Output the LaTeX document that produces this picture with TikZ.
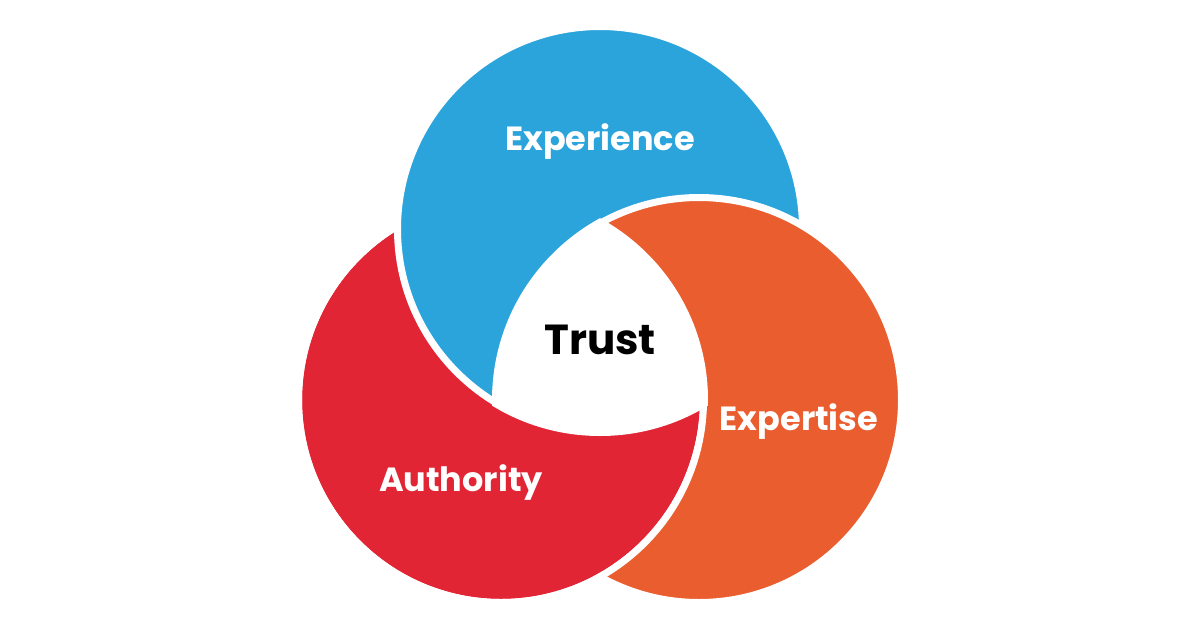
\documentclass[tikz,border=0pt]{standalone}
\usepackage{fontspec}
\setmainfont{Poppins}
\definecolor{expblue}{RGB}{43,164,219}
\definecolor{authred}{RGB}{226,37,52}
\definecolor{exporange}{RGB}{234,93,46}

\begin{document}
\begin{tikzpicture}[x=1pt, y=-1pt,
    gap/.style={draw=white, line width=7pt},
    ringlabel/.style={font=\bfseries\fontsize{33.5}{33.5}\selectfont, text=white, anchor=base, inner sep=0pt}]
        \useasboundingbox (0,0) rectangle (1200,630);
        \def\rr{202.5}
        \def\rw{207}
        \coordinate (B) at (600,229);
        \coordinate (R) at (501,400);
        \coordinate (O) at (699,400);

        % Expertise (bottom layer)
        \fill[exporange] (O) circle[radius=\rr];
        % Authority over Expertise
        \path[fill=authred, gap] (R) circle[radius=\rr];
        % Experience over Authority
        \path[fill=expblue, gap] (B) circle[radius=\rr];

        % Expertise over Experience
        \begin{scope}[even odd rule]
            \clip (0,0) rectangle (1200,630) (R) circle[radius=\rr];
            \path[fill=exporange, gap, nonzero rule] (O) circle[radius=\rr];
        \end{scope}
        % gap of Authority over Expertise
        \begin{scope}[even odd rule]
            \clip (0,0) rectangle (1200,630) (B) circle[radius=\rr];
            \draw[gap] (R) circle[radius=\rr];
        \end{scope}

        % Trust (white centre)
        \begin{scope}
            \clip (B) circle[radius=\rw];
            \clip (R) circle[radius=\rw];
            \fill[white] (O) circle[radius=\rw];
        \end{scope}

        % Labels
        \node[ringlabel] (experience) at (600,150.5) {Experience};
        \node[ringlabel] (expertise) at (799,430.5) {Expertise};
        \node[ringlabel] (authority) at (461,491.5) {Authority};
        \node[ringlabel, text=black, font=\bfseries\fontsize{42}{42}\selectfont] (trust) at (600,354) {Trust};
\end{tikzpicture}
\end{document}
